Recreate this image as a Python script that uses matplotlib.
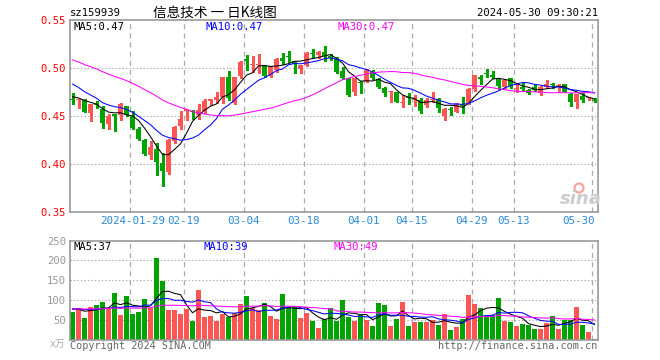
import matplotlib
matplotlib.use('Agg')
import matplotlib.pyplot as plt
import numpy as np
import pandas as pd
from matplotlib.patches import Rectangle, Ellipse
from matplotlib.collections import PatchCollection, LineCollection

plt.rcParams['font.family'] = ['DejaVu Sans Mono', 'Noto Sans CJK SC']
plt.rcParams['lines.scale_dashes'] = False

# ---------------- data ----------------
holidays = ['2024-02-09', '2024-02-12', '2024-02-13', '2024-02-14', '2024-02-15',
            '2024-02-16', '2024-04-04', '2024-04-05', '2024-05-01', '2024-05-02', '2024-05-03']
dates = [d.strftime('%Y-%m-%d') for d in pd.bdate_range('2024-01-15', '2024-05-30')
         if d.strftime('%Y-%m-%d') not in holidays]

opens = [0.4675, 0.4672, 0.4672, 0.4530, 0.4628, 0.4580, 0.4425, 0.4520, 0.4510, 0.4607,
         0.4500, 0.4365, 0.4253, 0.4097, 0.4160, 0.4017, 0.3917, 0.4245, 0.4400, 0.4560,
         0.4556, 0.4514, 0.4556, 0.4660, 0.4670, 0.4698, 0.4913, 0.4642, 0.4920, 0.5092,
         0.5030, 0.5035, 0.5035, 0.4924, 0.4983, 0.5104, 0.5125, 0.5076, 0.4993, 0.5035,
         0.5150, 0.5139, 0.5174, 0.5128, 0.5100, 0.4972, 0.4885, 0.4757, 0.4860, 0.4868,
         0.4965, 0.4885, 0.4800, 0.4755, 0.4757, 0.4638, 0.4690, 0.4675, 0.4670, 0.4618,
         0.4665, 0.4677, 0.4503, 0.4568, 0.4549, 0.4628, 0.4635, 0.4781, 0.4913, 0.4943,
         0.4931, 0.4896, 0.4809, 0.4896, 0.4783, 0.4809, 0.4774, 0.4809, 0.4740, 0.4809,
         0.4828, 0.4809, 0.4833, 0.4729, 0.4646, 0.4715, 0.4688, 0.4672]
highs = [0.4740, 0.4680, 0.4685, 0.4627, 0.4655, 0.4605, 0.4520, 0.4523, 0.4640, 0.4610,
         0.4555, 0.4392, 0.4265, 0.4240, 0.4225, 0.4120, 0.4260, 0.4399, 0.4559, 0.4580,
         0.4566, 0.4625, 0.4677, 0.4680, 0.4757, 0.4906, 0.4972, 0.4913, 0.5080, 0.5135,
         0.5128, 0.5146, 0.5035, 0.5028, 0.5104, 0.5156, 0.5180, 0.5076, 0.5035, 0.5167,
         0.5198, 0.5180, 0.5236, 0.5146, 0.5115, 0.5017, 0.4896, 0.4903, 0.4865, 0.4990,
         0.4983, 0.4896, 0.4810, 0.4766, 0.4757, 0.4722, 0.4740, 0.4722, 0.4688, 0.4688,
         0.4757, 0.4688, 0.4583, 0.4600, 0.4635, 0.4705, 0.4799, 0.4931, 0.4931, 0.4990,
         0.4976, 0.4896, 0.4889, 0.4903, 0.4844, 0.4854, 0.4785, 0.4826, 0.4819, 0.4878,
         0.4844, 0.4833, 0.4837, 0.4740, 0.4729, 0.4740, 0.4705, 0.4688]
lows = [0.4630, 0.4585, 0.4540, 0.4452, 0.4583, 0.4378, 0.4366, 0.4350, 0.4465, 0.4500,
        0.4365, 0.4253, 0.4100, 0.4055, 0.3890, 0.3777, 0.3899, 0.4220, 0.4365, 0.4462,
        0.4470, 0.4472, 0.4531, 0.4618, 0.4636, 0.4636, 0.4668, 0.4628, 0.4896, 0.4983,
        0.4965, 0.4948, 0.4913, 0.4906, 0.4965, 0.5045, 0.5069, 0.4948, 0.4948, 0.5024,
        0.5122, 0.5104, 0.5080, 0.5090, 0.4950, 0.4889, 0.4715, 0.4722, 0.4740, 0.4860,
        0.4889, 0.4800, 0.4715, 0.4653, 0.4646, 0.4600, 0.4628, 0.4611, 0.4531, 0.4600,
        0.4653, 0.4550, 0.4462, 0.4514, 0.4542, 0.4538, 0.4628, 0.4767, 0.4837, 0.4913,
        0.4896, 0.4785, 0.4792, 0.4792, 0.4757, 0.4764, 0.4729, 0.4764, 0.4722, 0.4799,
        0.4792, 0.4764, 0.4750, 0.4611, 0.4583, 0.4653, 0.4670, 0.4645]
closes = [0.4670, 0.4678, 0.4545, 0.4624, 0.4620, 0.4430, 0.4500, 0.4505, 0.4630, 0.4510,
          0.4380, 0.4260, 0.4107, 0.4183, 0.4027, 0.3930, 0.4253, 0.4385, 0.4472, 0.4576,
          0.4545, 0.4566, 0.4660, 0.4677, 0.4698, 0.4906, 0.4688, 0.4906, 0.5069, 0.5072,
          0.5035, 0.5042, 0.4924, 0.5024, 0.5097, 0.5076, 0.5120, 0.5045, 0.5035, 0.5163,
          0.5146, 0.5174, 0.5128, 0.5104, 0.4965, 0.4903, 0.4722, 0.4896, 0.4845, 0.4983,
          0.4896, 0.4810, 0.4747, 0.4764, 0.4653, 0.4642, 0.4686, 0.4678, 0.4559, 0.4670,
          0.4685, 0.4583, 0.4576, 0.4563, 0.4635, 0.4611, 0.4781, 0.4931, 0.4885, 0.4939,
          0.4906, 0.4816, 0.4878, 0.4820, 0.4787, 0.4785, 0.4740, 0.4774, 0.4802, 0.4833,
          0.4824, 0.4826, 0.4757, 0.4646, 0.4729, 0.4670, 0.4694, 0.4655]
volumes = [70.9, 79.3, 55.8, 83.5, 87.7, 95.3, 79.3, 118.8, 62.5, 110.4,
           65.0, 70.1, 102.8, 80.2, 206.2, 148.2, 75.1, 75.1, 65.0, 77.6,
           48.2, 125.5, 57.5, 60.0, 48.2, 65.0, 56.6, 66.7, 90.2, 110.4,
           79.3, 75.1, 92.8, 60.8, 52.4, 115.4, 83.5, 85.2, 55.0, 67.6,
           48.2, 29.7, 53.3, 79.3, 48.2, 100.3, 58.3, 47.4, 62.5, 49.9,
           34.8, 92.8, 87.7, 34.8, 52.4, 95.3, 34.8, 44.9, 44.9, 44.9,
           49.9, 37.3, 65.0, 24.7, 32.3, 52.4, 112.9, 90.2, 80.2, 62.5,
           62.5, 105.4, 47.4, 44.9, 34.8, 39.8, 37.3, 27.2, 27.2, 42.3,
           60.0, 27.2, 49.9, 49.9, 82.7, 37.3, 19.7, 2.0]

# sessions before the visible window (estimated from where the MA lines start)
prior_closes = [0.532, 0.535, 0.530, 0.528, 0.531, 0.526, 0.524, 0.522, 0.521, 0.522,
                0.518, 0.516, 0.513, 0.512, 0.514, 0.515, 0.511, 0.516, 0.519, 0.520,
                0.503, 0.499, 0.4965, 0.495, 0.4905, 0.474, 0.468, 0.472, 0.471]
prior_volumes = [85, 72, 80, 76, 83, 71, 79, 88, 74, 77, 82, 69, 81, 78, 75,
                 86, 73, 80, 77, 84, 70, 79, 83, 76, 81, 80, 82, 75, 79]

tick_dates = ['2024-01-29', '2024-02-19', '2024-03-04', '2024-03-18', '2024-04-01',
              '2024-04-15', '2024-04-29', '2024-05-13', '2024-05-30']
tick_labels = ['2024-01-29', '02-19', '03-04', '03-18', '04-01', '04-15', '04-29', '05-13', '05-30']
price_ticks = [0.35, 0.40, 0.45, 0.50, 0.55]
volume_ticks = [50, 100, 150, 200, 250]

code = 'sz159939'
title = '信息技术 一 日K线图'
stamp = '2024-05-30 09:30:21'
price_legend = ['MA5:0.47', 'MA10:0.47', 'MA30:0.47']
volume_legend = ['MA5:37', 'MA10:39', 'MA30:49']

# ---------------- helpers ----------------
W, H = 660, 360
def fx(px): return px / W
def fy(py): return 1 - py / H

RED = '#ff5555'
GREEN = '#00a400'
GRID = '#aaaaaa'
BORDER = '#999999'
MA_COLORS = ['#000000', '#0000ff', '#ff00ff']

n = len(closes)
idx = np.arange(n)
BODY_W = 5 / 6
CX = idx + 2.5 / 6

def moving_average(prior, values, w):
    arr = np.array(list(prior) + list(values), dtype=float)
    off = len(prior)
    return np.array([arr[off + i - w + 1: off + i + 1].mean() for i in range(len(values))])

fig = plt.figure(figsize=(6.6, 3.6), dpi=100)
fig.patch.set_facecolor('white')
ax = fig.add_axes([fx(70), fy(212.3), 528 / W, 192 / H])
axv = fig.add_axes([fx(70), fy(339.8), 528 / W, (339.8 - 240.6) / H])

tick_pos = [dates.index(d) for d in tick_dates]

for a, yt in ((ax, price_ticks[1:-1]), (axv, volume_ticks[:-1])):
    a.set_xlim(0, n)
    for y in yt:
        l = a.axhline(y, color=GRID, lw=0.75, zorder=0)
        l.set_dashes([1.0, 1.5])
    for p in tick_pos:
        l = a.axvline(p, color=GRID, lw=0.9, zorder=0)
        l.set_dashes([3.6, 3.0])
    for s in a.spines.values():
        s.set_color(BORDER)
        s.set_linewidth(1.2)
    a.tick_params(length=0)
    a.set_xticks([])

ax.set_ylim(0.35, 0.55)
axv.set_ylim(0, 250)

# ---------------- candles ----------------
o = np.array(opens); c = np.array(closes); h = np.array(highs); lo = np.array(lows)
up = c >= o
colors = np.where(up, RED, GREEN)
segs = [[(CX[i], lo[i]), (CX[i], h[i])] for i in range(n)]
ax.add_collection(LineCollection(segs, colors=colors, linewidths=1.0, zorder=2, antialiased=False))
min_h = 0.0011
rects = []
for i in range(n):
    bottom = min(o[i], c[i])
    height = max(abs(c[i] - o[i]), min_h)
    rects.append(Rectangle((i, bottom), BODY_W, height))
ax.add_collection(PatchCollection(rects, facecolors=colors, edgecolors='none', zorder=3, antialiased=False))

for w, col in zip((5, 10, 30), MA_COLORS):
    ax.plot(CX, moving_average(prior_closes, closes, w), color=col, lw=0.75, zorder=4)

# ---------------- volume ----------------
axv.bar(idx, volumes, width=BODY_W, align='edge', color=colors, zorder=2, antialiased=False)
for w, col in zip((5, 10, 30), MA_COLORS):
    axv.plot(CX, moving_average(prior_volumes, volumes, w), color=col, lw=0.75, zorder=4)

# ---------------- tick labels ----------------
ax.set_yticks(price_ticks)
ax.set_yticklabels([f'{p:.2f}' for p in price_ticks])
ax.tick_params(axis='y', labelcolor='#ff0000', labelsize=7.6, pad=3)
axv.set_yticks(volume_ticks)
axv.set_yticklabels([str(v) for v in volume_ticks])
axv.tick_params(axis='y', labelcolor='#999999', labelsize=7.6, pad=3)

DATE_COLOR = '#2a88d8'
for k, (p, lab) in enumerate(zip(tick_pos, tick_labels)):
    if k == len(tick_pos) - 1:
        ax.annotate(lab, xy=(n, 0), xycoords=('data', 'axes fraction'), xytext=(-3, -4),
                    textcoords='offset pixels', ha='right', va='top', color=DATE_COLOR, fontsize=7.8)
    else:
        ax.annotate(lab, xy=(p, 0), xycoords=('data', 'axes fraction'), xytext=(3 if k == 0 else 0, -4),
                    textcoords='offset pixels', ha='center', va='top', color=DATE_COLOR, fontsize=7.8)

# ---------------- header / legends ----------------
fig.text(fx(70), fy(13), code, fontsize=7.6, va='center', ha='left', color='black')
fig.text(fx(215), fy(13), title, fontsize=9.8, va='center', ha='center', color='black',
         family=['Noto Sans CJK SC', 'DejaVu Sans'])
fig.text(fx(598), fy(13), stamp, fontsize=7.6, va='center', ha='right', color='black')

for txt, x, col in zip(price_legend, (73, 206, 337), MA_COLORS):
    fig.text(fx(x), fy(27), txt, fontsize=7.6, va='center', ha='left', color=col)
for txt, x, col in zip(volume_legend, (73, 204, 334), MA_COLORS):
    fig.text(fx(x), fy(247), txt, fontsize=7.6, va='center', ha='left', color=col)

fig.text(fx(65), fy(344), 'x万', fontsize=7, va='center', ha='right', color='#aaaaaa',
         family=['DejaVu Sans Mono', 'Noto Sans CJK SC'])
fig.text(fx(70), fy(346), 'Copyright 2024 SINA.COM', fontsize=7.3, va='center', ha='left', color='#666666')
fig.text(fx(597), fy(346), 'http://finance.sina.com.cn', fontsize=7.3, va='center', ha='right', color='#666666')

# sina watermark
fig.text(fx(581), fy(199), 'sina', fontsize=13, fontstyle='italic', fontweight='bold',
         family='DejaVu Sans', color='#cccccc', ha='center', va='center')
fig.patches.append(Ellipse((fx(579), fy(188)), 9 / W, 9 / H, transform=fig.transFigure,
                           facecolor='none', edgecolor='#f4a0a0', lw=1.5))

fig.savefig('out.png', dpi=100, facecolor='white')
